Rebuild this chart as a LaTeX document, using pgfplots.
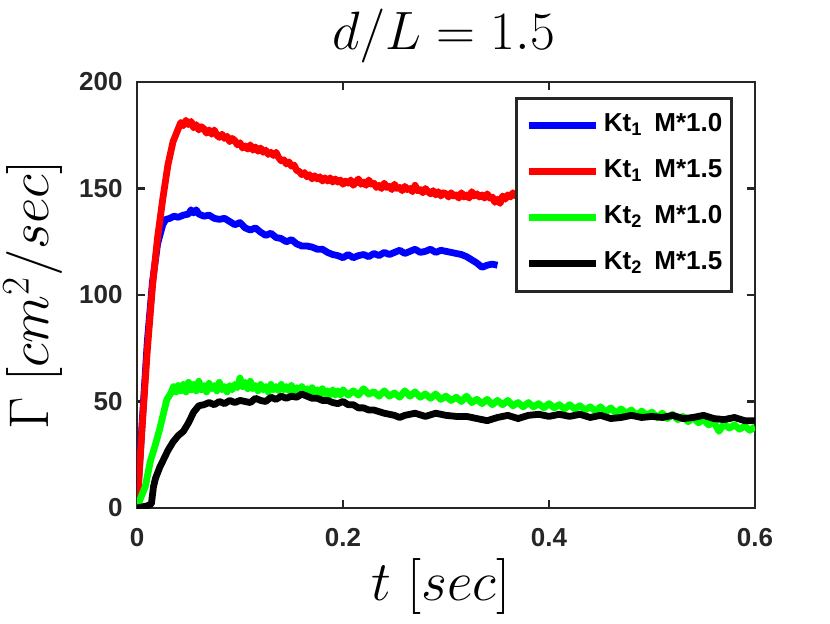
\documentclass[border=0pt]{standalone}
\usepackage{fix-cm}
\usepackage[no-math]{fontspec}
\setmainfont{Liberation Sans}
\usepackage{pgfplots}
\pgfplotsset{compat=1.18}
\definecolor{axgray}{gray}{0.15}
\begin{document}
\begin{tikzpicture}
\begin{axis}[
  at={(0,0)}, anchor=south west,
  scale only axis, width=309pt, height=213pt,
  xmin=0, xmax=0.6, ymin=0, ymax=200,
  xtick={0,0.2,0.4,0.6}, ytick={0,50,100,150,200},
  xticklabels={0,0.2,0.4,0.6},
  tick align=inside, major tick length=4pt,
  tick style={axgray, line width=1.4pt},
  axis line style={axgray, line width=1.4pt},
  /pgf/number format/assume math mode=true,
  ticklabel style={font=\fontsize{13}{15}\selectfont\bfseries, text=axgray},
  xticklabel style={inner sep=0pt, yshift=-10pt},
  yticklabel style={inner sep=0pt, xshift=-7pt},
  title={$d/L = 1.5$},
  title style={font=\fontsize{27}{32}\selectfont, at={(0.496,1.049)}, anchor=base, inner sep=0pt},
  xlabel={$t\ [sec]$},
  xlabel style={font=\fontsize{28}{32}\selectfont, at={(0.492,-0.216)}, anchor=base},
  ylabel={$\Gamma\ [cm^2/sec]$},
  ylabel style={font=\fontsize{28}{32}\selectfont, at={(-0.1424,0.5)}, anchor=base},
  legend style={at={(0.964,0.965)}, anchor=north east, draw=axgray, line width=1.4pt,
    fill=white, inner xsep=4.5pt, inner ysep=7.5pt, row sep=10.5pt, column sep=2pt,
    font=\fontsize{13}{15}\selectfont\bfseries,
    nodes={inner sep=0pt, text height=9pt, text depth=3.5pt}},
  legend cell align=left,
  legend image code/.code={\draw[#1, line width=3.5pt] (0pt,0pt) -- (33.5pt,0pt);},
  every axis plot/.append style={line width=3.4pt, line join=round},
]
\addplot[blue] coordinates {(0,0)(0.005,40)(0.01,78)(0.015,106)(0.02,124)(0.025,133)(0.028,135.5)(0.032,136)(0.036,137)(0.04,136.5)(0.045,137.5)(0.05,138)(0.0525,140)(0.055,138.5)(0.0575,140)(0.06,138)(0.065,137)(0.07,137.5)(0.075,136)(0.08,135.5)(0.085,136)(0.09,134.5)(0.095,133)(0.1,134)(0.105,131.5)(0.11,130.5)(0.115,131.5)(0.12,129.5)(0.125,128)(0.13,129)(0.135,127)(0.14,126.5)(0.145,125)(0.15,126)(0.155,124)(0.16,123)(0.165,123)(0.17,122.5)(0.175,121.5)(0.18,121.5)(0.185,120)(0.19,119)(0.195,118.5)(0.2,117.5)(0.205,119)(0.21,117.5)(0.215,118.5)(0.22,119)(0.225,118)(0.23,119.5)(0.235,118.5)(0.24,120)(0.245,119)(0.25,120)(0.255,121)(0.26,119.5)(0.265,120.5)(0.27,121.5)(0.275,120)(0.28,120.5)(0.285,121.5)(0.29,120)(0.295,121)(0.3,120.5)(0.305,120)(0.31,119.5)(0.315,119)(0.32,118)(0.325,116.5)(0.33,115)(0.335,113)(0.34,114)(0.345,114.5)(0.35,114)};
\addlegendentry{Kt\textsubscript{1}\hspace{6pt}M*1.0}
\addplot[red] coordinates {(0,0)(0.005,38)(0.01,74)(0.015,104)(0.02,127)(0.025,145)(0.03,161)(0.035,172)(0.04,178)(0.0425,181)(0.045,179.5)(0.0475,182)(0.05,180)(0.0525,181.5)(0.055,178.5)(0.0575,180)(0.06,177.5)(0.0625,179)(0.065,178)(0.0675,176)(0.07,177.5)(0.0725,175.5)(0.075,177.5)(0.0775,175)(0.08,174)(0.0825,175.5)(0.085,173.5)(0.0875,174.5)(0.09,172)(0.0925,173.5)(0.095,172.5)(0.0975,170.5)(0.1,171.5)(0.1025,169)(0.105,170)(0.1075,168.5)(0.11,170.5)(0.1125,168)(0.115,169.5)(0.1175,167.5)(0.12,169)(0.1225,167)(0.125,168)(0.1275,166)(0.13,167)(0.1325,165.5)(0.135,167)(0.1375,164.5)(0.14,163)(0.1425,163.5)(0.145,161.5)(0.1475,162.5)(0.15,160.5)(0.1525,161)(0.155,158.5)(0.1575,158)(0.16,156.5)(0.1625,157.5)(0.165,155.5)(0.1675,156.5)(0.17,154.5)(0.1725,156)(0.175,154.5)(0.1775,155.5)(0.18,153.5)(0.1825,155)(0.185,153.5)(0.1875,155)(0.19,153)(0.1925,154.5)(0.195,153)(0.1975,154)(0.2,152)(0.2025,153.5)(0.205,152.5)(0.2075,154)(0.21,151.5)(0.2125,153)(0.215,154.5)(0.2175,152)(0.22,153)(0.2225,151.5)(0.225,154)(0.2275,152)(0.23,152.5)(0.2325,150.5)(0.235,151.5)(0.2375,150)(0.24,152.5)(0.2425,150.5)(0.245,151)(0.2475,149.5)(0.25,152)(0.2525,150)(0.255,150.5)(0.2575,149)(0.26,151)(0.2625,149.5)(0.265,150)(0.2675,148.5)(0.27,151.5)(0.2725,149)(0.275,149.5)(0.2775,148)(0.28,150)(0.2825,148.5)(0.285,147.5)(0.2875,149)(0.29,147)(0.2925,148.5)(0.295,146.5)(0.2975,148)(0.3,147.5)(0.3025,146)(0.305,148)(0.3075,146.5)(0.31,147)(0.3125,145.5)(0.315,148)(0.3175,146)(0.32,147)(0.3225,145.5)(0.325,148.5)(0.3275,146.5)(0.33,147.5)(0.3325,146)(0.335,147)(0.3375,145.5)(0.34,147.5)(0.3425,145.5)(0.345,146)(0.3475,143.5)(0.35,145)(0.3525,143)(0.355,146.5)(0.3575,145)(0.36,147)(0.3625,146)(0.365,148)(0.3675,146.5)(0.37,148.5)(0.3725,147)(0.375,148)(0.38,148.5)(0.39,147.5)(0.4,147)(0.42,146.5)(0.44,146)(0.46,145.5)(0.48,145)(0.5,144.5)};
\addlegendentry{Kt\textsubscript{1}\hspace{6pt}M*1.5}
\addplot[green] coordinates {(0,0)(0.003,4)(0.008,10)(0.013,22)(0.018,30)(0.022,37)(0.026,45)(0.029,51)(0.033,54)(0.0355,57)(0.038,54.5)(0.04,57.5)(0.0425,55)(0.045,58)(0.0475,54.5)(0.05,59)(0.0525,55.5)(0.055,58)(0.0575,55)(0.06,59.5)(0.0625,55.5)(0.065,57.5)(0.0675,54.5)(0.07,58.5)(0.0725,56)(0.075,57.5)(0.0775,55)(0.08,59)(0.0825,55.5)(0.085,57)(0.0875,54.5)(0.09,57.5)(0.0925,55.5)(0.095,58)(0.0975,56.5)(0.1,61)(0.1025,57)(0.105,59)(0.1075,56)(0.11,59.5)(0.1125,56)(0.115,57.5)(0.1175,55)(0.12,58)(0.1225,55.5)(0.125,57)(0.1275,54.5)(0.13,58)(0.1325,55.5)(0.135,57)(0.1375,55)(0.14,58)(0.1425,55.5)(0.145,57)(0.1475,55)(0.15,57.5)(0.1525,54.5)(0.155,56.5)(0.1575,54)(0.16,57)(0.1625,54.5)(0.165,56)(0.1675,53.5)(0.17,56.5)(0.1725,54)(0.175,55.5)(0.1775,53)(0.18,56)(0.1825,53.5)(0.185,55)(0.1875,53)(0.19,55.5)(0.1925,53)(0.195,55)(0.1975,53)(0.2,55.5)(0.205,53)(0.21,55)(0.215,53)(0.22,56)(0.225,53.5)(0.23,54.5)(0.235,52.5)(0.24,55)(0.245,52.5)(0.25,54)(0.255,52)(0.26,55)(0.265,52.5)(0.27,54.5)(0.275,52)(0.28,53.5)(0.285,51.5)(0.29,53.5)(0.295,51)(0.3,52.5)(0.305,50.5)(0.31,52)(0.315,50)(0.32,52.5)(0.325,49.5)(0.33,51)(0.335,49)(0.34,51)(0.345,48.5)(0.35,50.5)(0.355,48.5)(0.36,50.5)(0.365,48)(0.37,49.5)(0.375,47.5)(0.38,49.5)(0.385,47.5)(0.39,49)(0.395,47)(0.4,49)(0.405,47)(0.41,48.5)(0.415,46.5)(0.42,48.5)(0.425,46.5)(0.43,48)(0.435,46)(0.44,47.5)(0.445,45.5)(0.45,47.5)(0.455,45)(0.46,47)(0.465,44.5)(0.47,46.5)(0.475,44.5)(0.48,46)(0.485,43.5)(0.49,45.5)(0.495,43.5)(0.5,45)(0.505,42.5)(0.51,44.5)(0.515,42)(0.52,44)(0.525,41.5)(0.53,43)(0.535,40.5)(0.54,42.5)(0.545,40)(0.55,41.5)(0.555,39)(0.56,40.5)(0.565,36)(0.57,39.5)(0.575,37.5)(0.58,39)(0.585,37)(0.59,38.5)(0.595,36.5)(0.6,38)};
\addlegendentry{Kt\textsubscript{2}\hspace{6pt}M*1.0}
\addplot[black] coordinates {(0,0)(0.005,0.5)(0.01,1)(0.014,2)(0.016,10)(0.018,14)(0.022,19)(0.026,23)(0.03,27)(0.035,31)(0.04,34)(0.045,36)(0.05,40)(0.055,45)(0.06,48)(0.065,48.5)(0.07,49.5)(0.075,48.5)(0.08,50)(0.085,49)(0.09,50.5)(0.095,49.5)(0.1,50.5)(0.105,50)(0.11,49.5)(0.115,51.5)(0.12,50.5)(0.125,50)(0.13,52)(0.135,51)(0.14,52.5)(0.145,51.5)(0.15,52.5)(0.155,52)(0.16,53.5)(0.165,52.5)(0.17,51.5)(0.175,51.5)(0.18,50.5)(0.185,50.5)(0.19,49.5)(0.195,49)(0.2,50)(0.205,48.5)(0.21,48.5)(0.215,47)(0.22,47)(0.225,46)(0.23,46)(0.24,44.5)(0.25,43.5)(0.255,42.5)(0.26,43.5)(0.27,44.5)(0.28,43)(0.29,44.5)(0.3,43.5)(0.31,43)(0.32,43)(0.33,42)(0.34,41)(0.35,42.5)(0.36,43.5)(0.37,42)(0.38,43.5)(0.39,44)(0.4,43)(0.41,44)(0.42,43)(0.43,44)(0.44,42.5)(0.45,43.5)(0.46,42)(0.47,42.5)(0.48,43.5)(0.49,42.5)(0.5,43)(0.51,42.5)(0.52,43.5)(0.53,42)(0.54,42.5)(0.55,43.5)(0.56,42)(0.57,41.5)(0.58,42.5)(0.59,41)(0.6,41)};
\addlegendentry{Kt\textsubscript{2}\hspace{6pt}M*1.5}
\end{axis}
\pgfresetboundingbox
\path[use as bounding box] (-68.5pt,-57.5pt) rectangle (346.5pt,254pt);
\end{tikzpicture}
\end{document}
